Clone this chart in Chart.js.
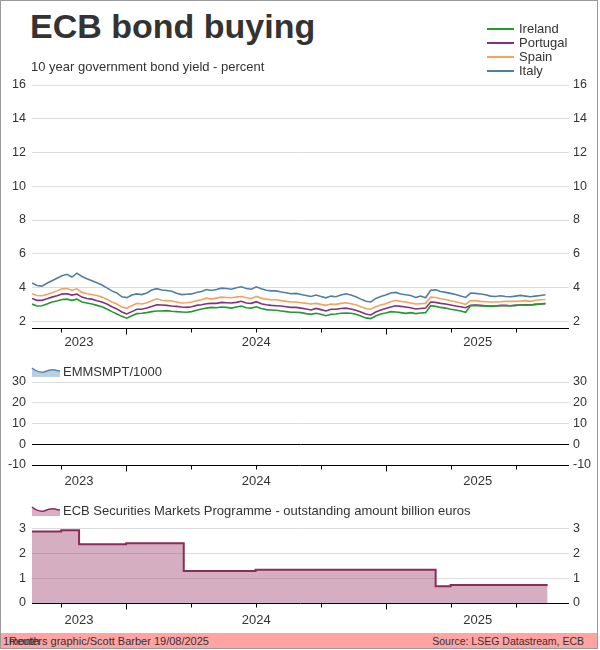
<!DOCTYPE html>
<html><head><meta charset="utf-8">
<script src="https://cdn.jsdelivr.net/npm/chart.js@4.4.0/dist/chart.umd.min.js"></script>
<style>
html,body{margin:0;padding:0;background:#fff;}
body{width:600px;height:650px;position:relative;overflow:hidden;font-family:"Liberation Sans",Arial,sans-serif;color:#333;}
#frame{position:absolute;left:0;top:0;width:598px;height:649px;box-sizing:border-box;border:1px solid #9a9a9a;}
.t{position:absolute;white-space:nowrap;font-size:13px;line-height:13px;}
.f{position:absolute;white-space:nowrap;font-size:11px;line-height:11px;}
canvas{position:absolute;left:0;}
#footer{position:absolute;left:1px;top:633px;width:596px;height:15px;background:#ffa3a3;}
</style></head>
<body>
<div id="frame"></div>
<div id="footer"></div>
<canvas id="c1" width="600" height="280" style="top:70px"></canvas>
<canvas id="c2" width="600" height="145" style="top:358px"></canvas>
<canvas id="c3" width="600" height="118" style="top:515px"></canvas>

<div class="t" style="left:30px;top:9px;font-size:34px;line-height:34px;font-weight:bold;">ECB bond buying</div>
<div class="t" style="left:31px;top:60px;">10 year government bond yield - percent</div>

<div style="position:absolute;left:487px;top:28px;width:27px;height:2px;background:#229a2e"></div>
<div class="t" style="left:519px;top:22px;">Ireland</div>
<div style="position:absolute;left:487px;top:42px;width:27px;height:2px;background:#84307f"></div>
<div class="t" style="left:519px;top:36px;">Portugal</div>
<div style="position:absolute;left:487px;top:56px;width:27px;height:2px;background:#f5a25a"></div>
<div class="t" style="left:519px;top:50px;">Spain</div>
<div style="position:absolute;left:487px;top:70px;width:27px;height:2px;background:#4f7fa3"></div>
<div class="t" style="left:519px;top:64px;">Italy</div>

<svg style="position:absolute;left:31px;top:366px" width="30" height="11">
<path d="M1,2 Q7,7 13,6 Q20,3 24,4 Q27,5 29,5 L29,11 L1,11 Z" fill="#b9d0e3"/>
<path d="M1,2 Q7,7 13,6 Q20,3 24,4 Q27,5 29,5" stroke="#5a86aa" stroke-width="1.5" fill="none"/>
</svg>
<div class="t" style="left:63px;top:365px;">EMMSMPT/1000</div>

<svg style="position:absolute;left:31px;top:505px" width="30" height="11">
<path d="M1,2 Q7,7 13,6 Q20,3 24,4 Q27,5 29,5 L29,11 L1,11 Z" fill="#d7b0c3"/>
<path d="M1,2 Q7,7 13,6 Q20,3 24,4 Q27,5 29,5" stroke="#8c2b57" stroke-width="1.5" fill="none"/>
</svg>
<div class="t" style="left:63px;top:504px;">ECB Securities Markets Programme - outstanding amount billion euros</div>

<div class="f" style="left:3px;top:636px;">1month</div>
<div class="f" style="left:9px;top:636px;">Reuters graphic/Scott Barber 19/08/2025</div>
<div class="f" style="right:16px;top:636px;font-size:10.5px;">Source: LSEG Datastream, ECB</div>

<script>
// ---- DATA ----
const yieldStart = '2023-08-22';   // first weekly observation
const yieldWeeks = 104;
const ireland = [3.02,2.90,2.92,3.02,3.14,3.20,3.29,3.31,3.24,3.31,3.14,3.08,3.02,2.94,2.86,2.73,2.57,2.43,2.29,2.18,2.33,2.45,2.47,2.51,2.57,2.61,2.61,2.63,2.59,2.57,2.55,2.53,2.57,2.65,2.73,2.78,2.82,
 2.80,2.84,2.82,2.78,2.84,2.90,2.80,2.78,2.86,2.76,2.69,2.67,2.65,2.61,2.57,2.53,2.53,2.51,2.45,2.41,2.47,2.41,2.33,2.41,2.43,2.47,2.49,2.47,2.41,2.31,2.20,2.16,2.31,2.43,2.49,2.57,
 2.55,2.51,2.47,2.51,2.45,2.49,2.51,2.92,2.88,2.82,2.78,2.71,2.67,2.61,2.53,2.92,2.94,2.90,2.90,2.88,2.90,2.92,2.92,2.92,2.94,2.96,2.96,2.96,3.00,3.02,3.06];
const portugal = [3.35,3.24,3.24,3.33,3.43,3.51,3.61,3.63,3.55,3.61,3.43,3.35,3.31,3.22,3.14,3.02,2.86,2.73,2.55,2.43,2.57,2.71,2.71,2.78,2.88,2.98,2.96,2.94,2.90,2.88,2.84,2.82,2.86,2.94,2.98,3.04,3.06,
 3.06,3.12,3.10,3.08,3.12,3.18,3.08,3.06,3.16,3.04,2.98,2.94,2.92,2.90,2.86,2.82,2.82,2.78,2.73,2.67,2.76,2.69,2.61,2.71,2.71,2.76,2.78,2.73,2.65,2.55,2.43,2.37,2.55,2.67,2.76,2.84,
 2.92,2.88,2.84,2.80,2.73,2.76,2.78,3.14,3.12,3.06,3.02,2.96,2.90,2.86,2.80,2.94,2.96,2.94,2.92,2.90,2.90,2.94,2.94,2.92,2.94,2.96,2.98,2.96,3.00,3.02,3.04];
const spain = [3.63,3.53,3.51,3.59,3.69,3.80,3.92,3.94,3.84,3.92,3.71,3.63,3.59,3.53,3.43,3.31,3.14,3.02,2.84,2.78,2.92,3.06,3.02,3.10,3.22,3.33,3.24,3.22,3.20,3.14,3.08,3.10,3.14,3.22,3.27,3.37,3.31,
 3.37,3.43,3.41,3.39,3.43,3.47,3.39,3.35,3.47,3.37,3.31,3.27,3.27,3.22,3.18,3.14,3.14,3.10,3.06,3.02,3.06,3.00,2.94,3.02,3.00,3.06,3.10,3.04,2.98,2.86,2.76,2.71,2.86,2.96,3.04,3.16,
 3.24,3.18,3.14,3.08,3.02,3.04,3.06,3.43,3.41,3.33,3.29,3.22,3.16,3.08,3.00,3.22,3.22,3.18,3.16,3.14,3.14,3.16,3.18,3.18,3.18,3.20,3.22,3.18,3.24,3.27,3.29];
const italy = [4.27,4.12,4.08,4.25,4.40,4.55,4.70,4.78,4.62,4.85,4.65,4.52,4.40,4.28,4.15,3.98,3.80,3.68,3.45,3.40,3.55,3.62,3.58,3.68,3.85,3.93,3.85,3.82,3.78,3.66,3.58,3.60,3.62,3.70,3.76,3.88,3.82,
 3.88,3.96,3.94,3.90,3.98,4.04,3.94,3.90,4.04,3.92,3.84,3.80,3.80,3.73,3.69,3.63,3.65,3.59,3.53,3.47,3.55,3.47,3.39,3.49,3.45,3.55,3.63,3.55,3.45,3.31,3.18,3.14,3.35,3.47,3.55,3.67,
 3.71,3.61,3.57,3.53,3.41,3.49,3.39,3.84,3.86,3.76,3.71,3.65,3.59,3.49,3.41,3.67,3.65,3.61,3.57,3.49,3.47,3.51,3.47,3.45,3.49,3.53,3.49,3.45,3.49,3.53,3.57];
const smpDates = ['2023-08-22','2023-10-02','2023-10-27','2024-01-01','2024-03-22','2024-07-01','2025-03-11','2025-04-01','2025-08-15'];
const smpValues = [2.88,2.93,2.37,2.41,1.29,1.34,0.67,0.72,0.72];
const emmsmpt = [];  // no observations shown
const xMinDate = '2023-08-22', xMaxDate = '2025-09-14';
const quarterTicks = ['2023-10-01','2024-01-01','2024-04-01','2024-07-01','2024-10-01','2025-01-01','2025-04-01','2025-07-01'];
const yearLabels = [2023, 2024, 2025];
const topTicks = [2,4,6,8,10,12,14,16];
const midTicks = [-10,0,10,20,30];
const botTicks = [0,1,2,3];

// ---- helpers ----
function toYear(s){const [Y,M,D]=s.split('-').map(Number);const t=Date.UTC(Y,M-1,D),a=Date.UTC(Y,0,1),b=Date.UTC(Y+1,0,1);return Y+(t-a)/(b-a);}
function dateStr(d){return d.toISOString().slice(0,10);}
const weekDates=[];{const d0=new Date(yieldStart+'T00:00:00Z');for(let i=0;i<yieldWeeks;i++){weekDates.push(dateStr(new Date(d0.getTime()+i*7*86400000)));}}
const weekX = weekDates.map(toYear);
const pts = arr => arr.map((v,i)=>({x:weekX[i],y:v}));
const xMin = toYear(xMinDate), xMax = toYear(xMaxDate);

Chart.defaults.font.family='"Liberation Sans", Arial, sans-serif';
Chart.defaults.font.size=12;
Chart.defaults.color='#333';

function yAxis(pos,min,max,ticks,gridColor){
  return {type:'linear',position:pos,min,max,
    afterBuildTicks:s=>{s.ticks=ticks.map(v=>({value:v}));},
    afterFit:s=>{s.width=pos==='left'?32:31;},
    ticks:{padding:pos==='left'?6:4,autoSkip:false,color:'#333',font:{size:12.5}},
    grid:{display:pos==='left',drawTicks:false,color:gridColor,lineWidth:1},
    border:{display:false}};
}
function xAxisPlugin(labelOffset){
  return {id:'xaxis',afterDatasetsDraw(chart){
    const {ctx,chartArea:ca,scales:{x}}=chart;
    ctx.save();
    const yb=Math.round(ca.bottom)+0.5;
    ctx.strokeStyle='#000';ctx.lineWidth=1;
    ctx.beginPath();ctx.moveTo(ca.left,yb);ctx.lineTo(ca.right,yb);
    quarterTicks.forEach(d=>{const px=Math.round(x.getPixelForValue(toYear(d)))+0.5;const lg=d.endsWith('-01-01');ctx.moveTo(px,yb);ctx.lineTo(px,yb+(lg?6:4));});
    ctx.stroke();
    ctx.fillStyle='#333';ctx.font='13px "Liberation Sans", Arial, sans-serif';ctx.textAlign='center';ctx.textBaseline='middle';
    yearLabels.forEach(yr=>{const a=Math.max(x.min,yr),b=Math.min(x.max,yr+1);const cx=(x.getPixelForValue(a)+x.getPixelForValue(b))/2;ctx.fillText(String(yr),cx,yb+labelOffset);});
    ctx.restore();
  }};
}
const common={responsive:false,animation:false,plugins:{legend:{display:false},tooltip:{enabled:false}},elements:{point:{radius:0}}};
const lineDs=(label,data,color)=>({label,data:pts(data),borderColor:color,borderWidth:1.6,pointRadius:0,tension:0,fill:false,yAxisID:'y'});

new Chart(document.getElementById('c1'),{type:'line',
  data:{datasets:[lineDs('Ireland',ireland,'#229a2e'),lineDs('Portugal',portugal,'#84307f'),lineDs('Spain',spain,'#f5a25a'),lineDs('Italy',italy,'#4f7fa3')]},
  options:Object.assign({},common,{layout:{padding:{top:15,bottom:22,left:0,right:0}},
    scales:{x:{type:'linear',min:xMin,max:xMax,display:false},
      y:yAxis('left',1.6,16,topTicks,'#dcdcdc'),y2:yAxis('right',1.6,16,topTicks,'#dcdcdc')}}),
  plugins:[xAxisPlugin(14)]});

new Chart(document.getElementById('c2'),{type:'line',
  data:{datasets:[{label:'EMMSMPT/1000',data:emmsmpt,borderColor:'#5a86aa',backgroundColor:'#b9d0e3',fill:'origin',yAxisID:'y'}]},
  options:Object.assign({},common,{layout:{padding:{top:24,bottom:38,left:0,right:0}},
    scales:{x:{type:'linear',min:xMin,max:xMax,display:false},
      y:yAxis('left',-10,30,midTicks,c=>(c.tick&&c.tick.value===0)?'#000':'#dcdcdc'),
      y2:yAxis('right',-10,30,midTicks,'#dcdcdc')}}),
  plugins:[xAxisPlugin(16)]});

new Chart(document.getElementById('c3'),{type:'line',
  data:{datasets:[{label:'ECB Securities Markets Programme - outstanding amount billion euros',
    data:smpDates.map((d,i)=>({x:toYear(d),y:smpValues[i]})),stepped:true,borderColor:'#8c2b57',borderWidth:2,
    backgroundColor:'rgba(150,55,100,0.4)',fill:'origin',pointRadius:0,yAxisID:'y'}]},
  options:Object.assign({},common,{layout:{padding:{top:11,bottom:30,left:0,right:0}},
    scales:{x:{type:'linear',min:xMin,max:xMax,display:false},
      y:yAxis('left',0,3,botTicks,'#dcdcdc'),y2:yAxis('right',0,3,botTicks,'#dcdcdc')}}),
  plugins:[xAxisPlugin(17)]});
</script>
</body></html>
